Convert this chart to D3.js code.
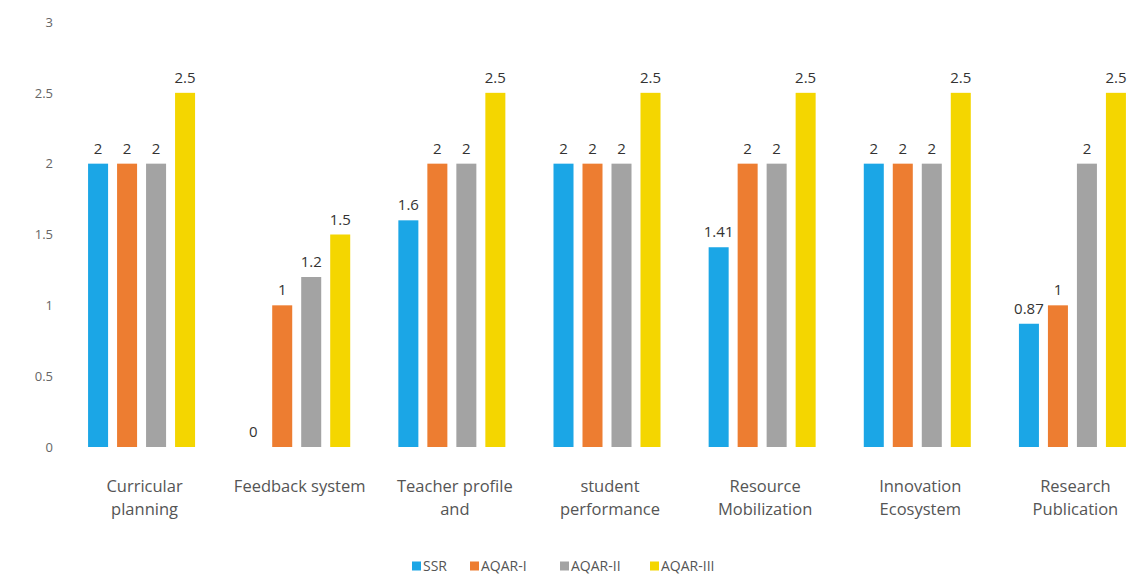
<!DOCTYPE html>
<html><head><meta charset="utf-8">
<script src="https://cdn.jsdelivr.net/npm/d3@7"></script>
<style>body{margin:0;background:#fff}svg{display:block}</style>
</head><body>
<svg id="c" width="1136" height="577"></svg>
<script>
const categories = [["Curricular","planning"],["Feedback system"],["Teacher profile","and"],["student","performance"],["Resource","Mobilization"],["Innovation","Ecosystem"],["Research","Publication"]];
const series = ["SSR","AQAR-I","AQAR-II","AQAR-III"];
const colors = ["#1ba6e6","#ed7d31","#a3a3a3","#f4d600"];
const ssr = [2,0,1.6,2,1.41,2,0.87];
const aqar1 = [2,1,2,2,2,2,1];
const aqar2 = [2,1.2,2,2,2,2,2];
const aqar3 = [2.5,1.5,2.5,2.5,2.5,2.5,2.5];
const yTicks = [0,0.5,1,1.5,2,2.5,3];
const values = [ssr,aqar1,aqar2,aqar3];
const FONT = "Open Sans, sans-serif";

const svg = d3.select("#c");
const x0 = d3.scaleBand().domain(d3.range(categories.length)).range([64,1150]);
const x1 = d3.scaleBand().domain(series).range([-53.5,53.5]).paddingInner(0.31);
const y = d3.scaleLinear().domain([0,3]).range([447,22]);
const color = d3.scaleOrdinal().domain(series).range(colors);

// y axis
const ya = svg.append("g").attr("transform","translate(53,0)")
  .call(d3.axisLeft(y).tickValues(yTicks).tickSize(0).tickPadding(0).tickFormat(d=>String(d)));
ya.select(".domain").remove();
ya.selectAll("text").attr("fill","#666").style("font-family",FONT).style("font-size","13px");

const rows = [];
categories.forEach((c,i)=>series.forEach((s,j)=>rows.push({i,s,v:values[j][i]})));
const cx = i => x0(i)+x0.bandwidth()/2;

svg.append("g").selectAll("rect").data(rows).join("rect")
  .attr("x",d=>cx(d.i)+x1(d.s)).attr("width",x1.bandwidth())
  .attr("y",d=>y(d.v)).attr("height",d=>y(0)-y(d.v))
  .attr("fill",d=>color(d.s));

svg.append("g").selectAll("text").data(rows).join("text")
  .attr("x",d=>cx(d.i)+x1(d.s)+x1.bandwidth()/2).attr("y",d=>y(d.v)-10)
  .attr("text-anchor","middle").attr("fill","#333")
  .style("font-family",FONT).style("font-size","15px")
  .text(d=>String(d.v));

// category labels
const cl = svg.append("g").selectAll("text").data(categories).join("text")
  .attr("x",(d,i)=>cx(i)+3).attr("y",492).attr("text-anchor","middle").attr("fill","#555")
  .style("font-family",FONT).style("font-size","16.5px");
cl.selectAll("tspan").data(d=>d).join("tspan")
  .attr("x",function(){return this.parentNode.getAttribute("x");})
  .attr("dy",(d,k)=>k===0?0:23).text(d=>d);

// legend
const lx = [412,470,560,650];
const lg = svg.append("g").selectAll("g").data(series).join("g")
  .attr("transform",(d,i)=>`translate(${lx[i]},566)`);
lg.append("rect").attr("x",0).attr("y",-4.5).attr("width",9).attr("height",9).attr("fill",d=>color(d));
lg.append("text").attr("x",11).attr("y",5).attr("fill","#555")
  .style("font-family",FONT).style("font-size","14px").text(d=>d);
</script>
</body></html>
